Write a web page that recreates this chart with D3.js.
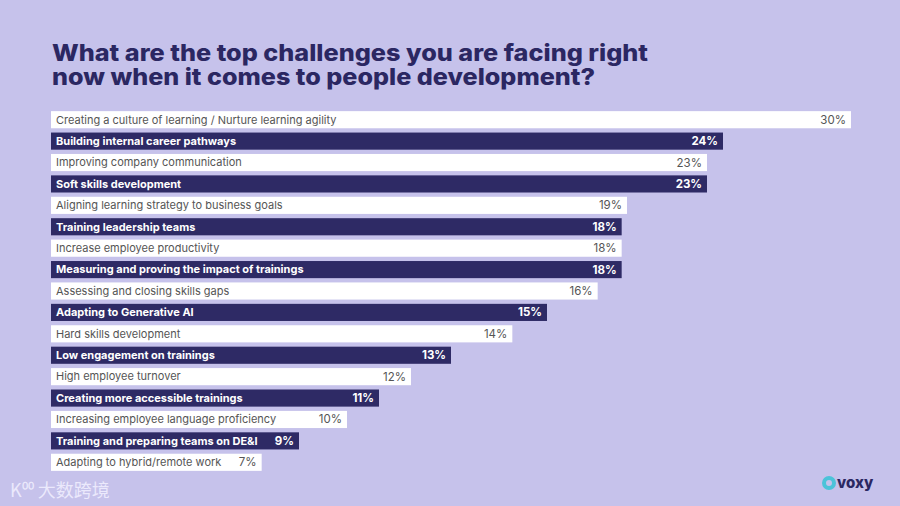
<!DOCTYPE html>
<html><head><meta charset="utf-8">
<script src="https://cdn.jsdelivr.net/npm/d3@7"></script>
<style>body{margin:0;background:#c6c2eb;}svg{display:block;font-family:Inter,"Noto Sans",sans-serif;}</style>
</head><body>
<svg id="chart" width="900" height="506"></svg>
<script>
const categories = [
  "Creating a culture of learning / Nurture learning agility",
  "Building internal career pathways",
  "Improving company communication",
  "Soft skills development",
  "Aligning learning strategy to business goals",
  "Training leadership teams",
  "Increase employee productivity",
  "Measuring and proving the impact of trainings",
  "Assessing and closing skills gaps",
  "Adapting to Generative AI",
  "Hard skills development",
  "Low engagement on trainings",
  "High employee turnover",
  "Creating more accessible trainings",
  "Increasing employee language proficiency",
  "Training and preparing teams on DE&I",
  "Adapting to hybrid/remote work"
];
// shown percentages
const labels = [30, 24, 23, 23, 19, 18, 18, 18, 16, 15, 14, 13, 12, 11, 10, 9, 7];
// bar lengths (in % units)
const values = [30, 25.2, 24.6, 24.6, 21.6, 21.4, 21.4, 21.4, 20.5, 18.6, 17.3, 15.0, 13.5, 12.3, 11.1, 9.3, 7.9];

const svg = d3.select("#chart");
const title = ["What are the top challenges you are facing right", "now when it comes to people development?"];
svg.selectAll("text.title").data(title).join("text").attr("class", "title")
  .attr("x", 52).attr("y", (d, i) => 61 + i * 24).attr("fill", "#2b2762")
  .attr("font-size", 23).attr("font-weight", 800).attr("textLength", (d, i) => i ? 543 : 596)
  .attr("lengthAdjust", "spacingAndGlyphs")
  .text(d => d);

const x = d3.scaleLinear().domain([0, 30]).range([51, 851]);
const y = d3.scaleBand().domain(d3.range(categories.length)).range([109, 473]).paddingInner(0.2).paddingOuter(0.1);

const row = svg.selectAll("g.row").data(categories).join("g").attr("class", "row")
  .attr("transform", (d, i) => `translate(0,${y(i)})`);
row.append("rect").attr("x", x(0)).attr("width", (d, i) => x(values[i]) - x(0))
  .attr("height", y.bandwidth())
  .attr("fill", (d, i) => i % 2 ? "#2e2a65" : "#ffffff");
row.append("text").attr("x", x(0) + 5).attr("y", y.bandwidth() / 2).attr("dy", "0.35em")
  .attr("font-size", 11).attr("font-weight", (d, i) => i % 2 ? 700 : 400)
  .attr("fill", (d, i) => i % 2 ? "#ffffff" : "#555")
  .text(d => d);
row.append("text").attr("x", (d, i) => x(values[i]) - 5).attr("y", y.bandwidth() / 2).attr("dy", "0.35em")
  .attr("text-anchor", "end").attr("font-size", 11.5).attr("font-weight", (d, i) => i % 2 ? 700 : 400)
  .attr("fill", (d, i) => i % 2 ? "#ffffff" : "#555")
  .text((d, i) => labels[i] + "%");

// logos
const logo = svg.append("g").attr("transform", "translate(829,483)");
logo.append("circle").attr("cx", 0).attr("cy", 0).attr("r", 5).attr("fill", "none").attr("stroke", "#4cc3d9").attr("stroke-width", 4);
logo.append("text").attr("x", 8).attr("y", 5).attr("font-size", 15).attr("font-weight", 800).attr("fill", "#2b2762").text("voxy");
svg.append("text").attr("x", 10).attr("y", 497).attr("font-size", 18).attr("fill", "#f2f0ff").attr("opacity", 0.85)
  .attr("font-family", "Noto Sans CJK SC").text("K⁰⁰ 大数跨境");
</script>
</body></html>
